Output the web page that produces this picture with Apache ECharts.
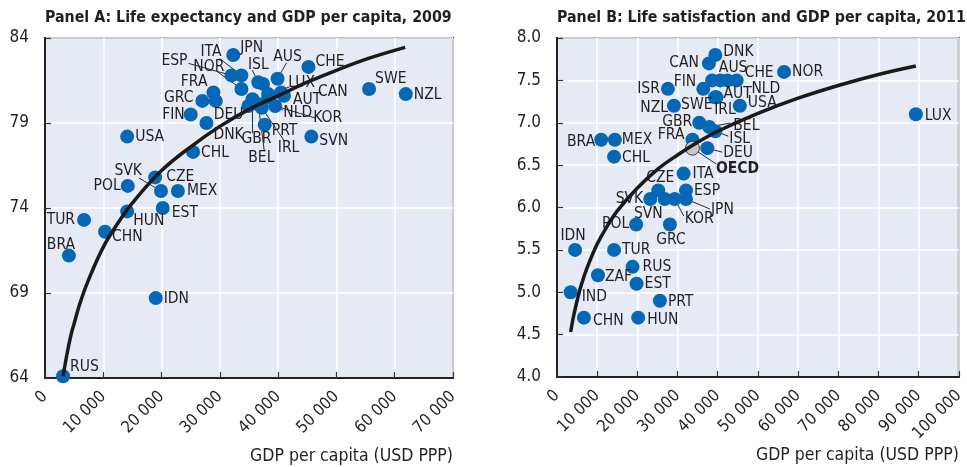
<!DOCTYPE html>
<html>
<head>
<meta charset="utf-8">
<script src="https://cdn.jsdelivr.net/npm/echarts@6/dist/echarts.min.js"></script>
<style>
  html, body { margin: 0; padding: 0; background: #ffffff; }
  #chart { width: 967px; height: 467px; }
</style>
</head>
<body>
<div id="chart"></div>
<script>
// ---- Panel A: life expectancy at birth (years) vs GDP per capita, 2009 ----
const codesA = ['RUS','BRA','TUR','CHN','USA','POL','HUN','CZE','SVK','MEX','EST','IDN',
  'CHL','DNK','FIN','GRC','FRA','','ESP','ITA','JPN','NOR','ISL','',
  'AUS','CHE','LUX','CAN','AUT','DEU','GBR','BEL','IRL','NLD','KOR','PRT','SVN','SWE','NZL'];
const gdpA = [3100,4100,6700,10300,14100,14200,14100,18900,19900,22800,20200,19000,
  25400,27700,25000,27000,28900,29300,32000,33700,32300,33700,36600,37400,
  39900,45200,38300,40500,41000,34900,35600,36600,37200,38300,39500,37700,45700,55600,61900];
const lifeExpA = [64.1,71.2,73.3,72.6,78.2,75.3,73.8,75.8,75.0,75.0,74.0,68.7,
  77.3,79.0,79.5,80.3,80.8,80.3,81.8,81.8,83.0,81.0,81.4,81.3,
  81.6,82.3,80.7,80.8,80.6,80.0,80.4,80.1,79.9,80.5,80.0,78.9,78.2,81.0,80.7];
// logarithmic trend curve, sampled along its length
const trendGdpA = [3100,3500,4000,4500,5000,6000,7500,10000,12500,15000,20000,25000,
  30000,35000,40000,45000,50000,55500,61800];
const trendLifeA = [64.1,64.9,65.8,66.6,67.2,68.4,69.8,71.7,73.1,74.3,76.2,77.6,
  78.8,79.8,80.6,81.4,82.1,82.8,83.45];

// ---- Panel B: life satisfaction (0-10) vs GDP per capita, 2011 ----
const codesB = ['DNK','CAN','SWE','AUS','NLD','CHE','NOR','ISR','FIN','AUT','IRL','USA','NZL',
  'GBR','BEL','ISL','BRA','MEX','CHL','FRA','DEU','ITA','CZE','ESP','SVK','SVN','KOR','JPN',
  'POL','GRC','IDN','TUR','RUS','ZAF','EST','IND','PRT','CHN','HUN','LUX'];
const gdpB = [39400,37800,38600,40600,42400,44700,56500,27600,36400,39700,39300,45500,29100,
  35400,37900,39400,11000,14400,14200,33700,37400,31500,25200,32100,23200,26800,29300,32100,
  19700,28100,4500,14200,18800,10200,19800,3400,25600,6700,20200,89300];
const lifeSatB = [7.8,7.7,7.5,7.5,7.5,7.5,7.6,7.4,7.4,7.3,7.3,7.2,7.2,
  7.0,6.95,6.9,6.8,6.8,6.6,6.8,6.7,6.4,6.2,6.2,6.1,6.1,6.1,6.1,
  5.8,5.8,5.5,5.5,5.3,5.2,5.1,5.0,4.9,4.7,4.7,7.1];
const oecdGdpB = [33700];
const oecdSatB = [6.7];
const trendGdpB = [3400,4000,5000,6000,7500,10000,12500,15000,20000,25000,30000,35000,
  40000,50000,60000,70000,80000,89300];
const trendSatB = [4.53,4.69,4.90,5.08,5.29,5.57,5.78,5.96,6.23,6.45,6.62,6.77,
  6.90,7.11,7.29,7.44,7.57,7.67];

// ---- label placement: [dx, dy, align] of the text anchor from the marker centre ----
const placeA = {
  RUS:[7,-9,'left'], BRA:[-8,-11,'center'], TUR:[-9,0,'right'], CHN:[7,5,'left'],
  USA:[8,0,'left'], POL:[-7,0,'right'], HUN:[6,10,'left'], CZE:[11,0,'left'],
  SVK:[-19,-20,'right'], MEX:[9,0,'left'], EST:[9,5,'left'], IDN:[8,1,'left'],
  CHL:[8,1,'left'], DNK:[7,12,'left'], FIN:[-6,0,'right'], GRC:[-9,-3,'right'],
  FRA:[-6,-10,'right'], ESP:[-44,-14,'right'], ITA:[-20,-23,'right'], JPN:[7,-7,'left'],
  NOR:[-17,-22,'right'], ISL:[0,-17,'center'], AUS:[10,-22,'center'], CHE:[7,-5,'left'],
  LUX:[20,-11,'left'], CAN:[37,0,'left'], AUT:[9,4,'left'], DEU:[-5,9,'right'],
  GBR:[4,40,'center'], BEL:[3,54,'center'], IRL:[16,40,'left'], NLD:[15,15,'left'],
  KOR:[38,12,'left'], PRT:[7,6,'left'], SVN:[8,4,'left'], SWE:[6,-10,'left'], NZL:[8,1,'left']
};
// leader lines: end point offset from the marker centre
const leadA = {
  SVK:[-22,-13], ESP:[-43,-12], ITA:[-22,-17], NOR:[-25,-18], ISL:[-6,-12], AUS:[9,-16],
  LUX:[21,-7], GBR:[0,34], BEL:[6,47], IRL:[23,34], NLD:[15,13], KOR:[40,12]
};
const placeB = {
  DNK:[8,-3,'left'], CAN:[-10,0,'right'], SWE:[-31,25,'left'], AUS:[13,-12,'center'],
  NLD:[24,9,'left'], CHE:[8,-7,'left'], NOR:[8,0,'left'], ISR:[-8,0,'right'],
  FIN:[-7,-7,'right'], AUT:[7,-3,'left'], IRL:[10,13,'center'], USA:[8,-3,'left'],
  NZL:[-6,2,'right'], GBR:[-7,-1,'right'], BEL:[24,-1,'left'], ISL:[14,8,'left'],
  BRA:[-6,2,'right'], MEX:[7,0,'left'], CHL:[8,1,'left'], FRA:[-8,-5,'right'],
  DEU:[16,5,'left'], ITA:[9,0,'left'], CZE:[2,-13,'center'], ESP:[8,0,'left'],
  SVK:[-7,0,'right'], SVN:[-2,15,'right'], KOR:[10,20,'left'], JPN:[25,11,'left'],
  POL:[-7,0,'right'], GRC:[1,16,'center'], IDN:[-2,-14,'center'], TUR:[8,0,'left'],
  RUS:[10,0,'left'], ZAF:[7,2,'left'], EST:[8,0,'left'], IND:[11,5,'left'],
  PRT:[8,1,'left'], CHN:[9,3,'left'], HUN:[9,2,'left'], LUX:[9,2,'left'],
  OECD:[24,21,'left']
};
const leadB = {
  BEL:[21,-4], ISL:[13,5], DEU:[15,4], KOR:[9,17], JPN:[24,10], OECD:[24,16]
};

const FONT = "'DejaVu Sans Condensed','Liberation Sans Narrow',sans-serif";
const INK = '#231f20';
const DOT = '#0667b4';
const SYM = 14;

function thousands(v) {
  return v === 0 ? '0' : String(v).replace(/\B(?=(\d{3})+(?!\d))/g, ' ');
}

function labelFor(code, place, bold) {
  const p = place[code];
  if (!p) return { show: false };
  return {
    show: true,
    formatter: '{b}',
    position: [SYM / 2 + p[0], SYM / 2 + p[1]],
    align: p[2],
    verticalAlign: 'middle',
    fontFamily: FONT,
    fontSize: 15.5,
    fontWeight: bold ? 'bold' : 'normal',
    color: INK
  };
}

function points(codes, xs, ys, place) {
  return codes.map((c, i) => ({ name: c, value: [xs[i], ys[i]], label: labelFor(c, place, false) }));
}

function leaderSeries(codes, xs, ys, lead, gi) {
  const data = [];
  codes.forEach((c, i) => { if (lead[c]) data.push([xs[i], ys[i], i]); });
  return {
    type: 'custom', xAxisIndex: gi, yAxisIndex: gi, z: 1, silent: true,
    data: data,
    renderItem: function (params, api) {
      const p = api.coord([api.value(0), api.value(1)]);
      const o = lead[codes[api.value(2)]];
      return {
        type: 'line',
        shape: { x1: p[0], y1: p[1], x2: p[0] + o[0], y2: p[1] + o[1] },
        style: { stroke: '#2b2b2b', lineWidth: 1 }
      };
    }
  };
}

function trend(xs, ys, gi) {
  return {
    type: 'line', xAxisIndex: gi, yAxisIndex: gi, z: 3, silent: true,
    data: xs.map((x, i) => [x, ys[i]]),
    smooth: 0.4, showSymbol: false, symbol: 'none',
    lineStyle: { color: '#1a1a1a', width: 3.5 }
  };
}

function xAxisFor(gi, max) {
  return {
    type: 'value', gridIndex: gi, min: 0, max: max, interval: 10000,
    axisLine: { show: true, onZero: false, lineStyle: { color: '#222', width: 2 } },
    axisTick: { show: true, inside: true, length: 6, lineStyle: { color: '#333', width: 1.2 } },
    splitLine: { show: true, lineStyle: { color: '#ffffff', width: 1.5 } },
    axisLabel: {
      rotate: 45, margin: 16, fontFamily: FONT, fontSize: 16.5, color: INK,
      formatter: thousands
    },
    name: 'GDP per capita (USD PPP)',
    nameLocation: 'end', nameGap: 0,
    nameTextStyle: {
      fontFamily: FONT, fontSize: 17.5, color: INK,
      align: 'right', verticalAlign: 'top', padding: [69, 0, 0, 0]
    }
  };
}

function yAxisFor(gi, min, max, step, fmt) {
  return {
    type: 'value', gridIndex: gi, min: min, max: max, interval: step,
    axisLine: { show: true, onZero: false, lineStyle: { color: '#222', width: 2 } },
    axisTick: { show: true, inside: true, length: 6, lineStyle: { color: '#333', width: 1.2 } },
    splitLine: { show: true, lineStyle: { color: '#ffffff', width: 1.5 } },
    axisLabel: { margin: 16, fontFamily: FONT, fontSize: 17, color: INK, formatter: fmt }
  };
}

const chart = echarts.init(document.getElementById('chart'), null, { renderer: 'canvas' });

const gridStyle = {
  show: true, backgroundColor: '#e5eaf5', borderColor: '#333333', borderWidth: 2
};

const oecdData = [{
  name: 'OECD', value: [oecdGdpB[0], oecdSatB[0]],
  label: labelFor('OECD', placeB, true)
}];

const titleStyle = { fontFamily: FONT, fontSize: 15.8, fontWeight: 'bold', color: INK };

chart.setOption({
  animation: false,
  backgroundColor: '#ffffff',
  title: [
    { text: 'Panel A: Life expectancy and GDP per capita, 2009', left: 45, top: 10, padding: 0,
      textStyle: titleStyle },
    { text: 'Panel B: Life satisfaction and GDP per capita, 2011', left: 557, top: 10, padding: 0,
      textStyle: titleStyle }
  ],
  grid: [
    Object.assign({ left: 45, top: 38, width: 408, height: 340 }, gridStyle),
    Object.assign({ left: 557, top: 38, width: 408, height: 339 }, gridStyle)
  ],
  xAxis: [xAxisFor(0, 70000), xAxisFor(1, 100000)],
  yAxis: [
    yAxisFor(0, 64, 84, 5, v => String(v)),
    yAxisFor(1, 4, 8, 0.5, v => v.toFixed(1))
  ],
  series: [
    leaderSeries(codesA, gdpA, lifeExpA, leadA, 0),
    {
      type: 'scatter', xAxisIndex: 0, yAxisIndex: 0, z: 2, symbolSize: SYM,
      itemStyle: { color: DOT, opacity: 1 },
      data: points(codesA, gdpA, lifeExpA, placeA)
    },
    trend(trendGdpA, trendLifeA, 0),

    leaderSeries(codesB, gdpB, lifeSatB, leadB, 1),
    leaderSeries(['OECD'], oecdGdpB, oecdSatB, leadB, 1),
    {
      type: 'scatter', xAxisIndex: 1, yAxisIndex: 1, z: 2, symbolSize: SYM,
      itemStyle: { color: DOT, opacity: 1 },
      data: points(codesB, gdpB, lifeSatB, placeB)
    },
    {
      type: 'scatter', xAxisIndex: 1, yAxisIndex: 1, z: 2, symbolSize: SYM,
      itemStyle: { color: '#c6c6c6', borderColor: '#3a3a3a', borderWidth: 1, opacity: 1 },
      data: oecdData
    },
    trend(trendGdpB, trendSatB, 1)
  ]
});
</script>
</body>
</html>
